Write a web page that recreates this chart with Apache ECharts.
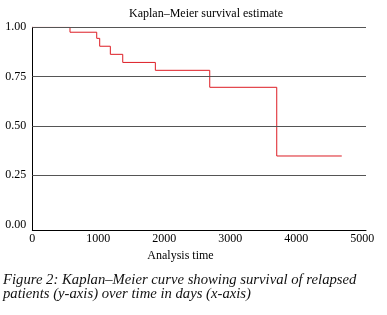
<!DOCTYPE html>
<html><head><meta charset="utf-8">
<script src="https://cdn.jsdelivr.net/npm/echarts@6/dist/echarts.min.js"></script>
<style>html,body{margin:0;padding:0;background:#fff}#c{width:387px;height:315px}</style>
</head><body><div id="c"></div>
<script>
const times = [0, 571, 976, 1021, 1182, 1370, 1864, 2688, 3703, 4688];
const survival = [1, 0.975, 0.944, 0.904, 0.863, 0.822, 0.782, 0.696, 0.348, 0.348];
const xTicks = [0, 1000, 2000, 3000, 4000, 5000];
const yTicks = [0, 0.25, 0.5, 0.75, 1];
const gridYs = [0.25, 0.5, 0.75, 1];
const titleText = 'Kaplan–Meier survival estimate';
const xTitle = 'Analysis time';
const caption1 = 'Figure 2: Kaplan–Meier curve showing survival of relapsed';
const caption2 = 'patients (y-axis) over time in days (x-axis)';

const serif = '"Liberation Serif", "DejaVu Serif", serif';
const chart = echarts.init(document.getElementById('c'), null, {renderer: 'canvas'});
chart.setOption({
  animation: false,
  grid: {left: 32.3, right: 21, top: 27.3, bottom: 85, containLabel: false},
  xAxis: {
    type: 'value', min: 0, max: 5055,
    axisLine: {show: true, onZero: false, lineStyle: {color: '#000', width: 1}},
    axisTick: {show: false},
    splitLine: {show: false},
    axisLabel: {customValues: xTicks, color: '#000', fontFamily: serif, fontSize: 12, margin: 3,
      formatter: v => String(v)}
  },
  yAxis: {
    type: 'value', min: -0.027, max: 1,
    axisLine: {show: true, onZero: false, lineStyle: {color: '#000', width: 1}},
    axisTick: {show: false},
    splitLine: {show: false},
    axisLabel: {customValues: yTicks, color: '#000', fontFamily: serif, fontSize: 12, margin: 6,
      formatter: v => v.toFixed(2)}
  },
  series: [{
    type: 'line', step: 'end', showSymbol: false,
    data: times.map((t, i) => [t, survival[i]]),
    lineStyle: {color: '#dd1c24', width: 1},
    markLine: {
      silent: true, symbol: 'none', label: {show: false},
      lineStyle: {color: '#555', width: 1, type: 'solid'},
      data: gridYs.map(v => ({yAxis: v}))
    },
    z: 3
  }],
  graphic: [
    {type: 'text', x: 206, y: 14, style: {text: titleText, font: '12px ' + serif, fill: '#000', align: 'center', verticalAlign: 'middle'}},
    {type: 'text', x: 180.5, y: 256, style: {text: xTitle, font: '12px ' + serif, fill: '#000', align: 'center', verticalAlign: 'middle'}},
    {type: 'text', x: 3, y: 280, style: {text: caption1, font: 'italic 14.7px ' + serif, fill: '#111', align: 'left', verticalAlign: 'middle'}},
    {type: 'text', x: 3, y: 294, style: {text: caption2, font: 'italic 14.7px ' + serif, fill: '#111', align: 'left', verticalAlign: 'middle'}}
  ]
});
</script></body></html>
